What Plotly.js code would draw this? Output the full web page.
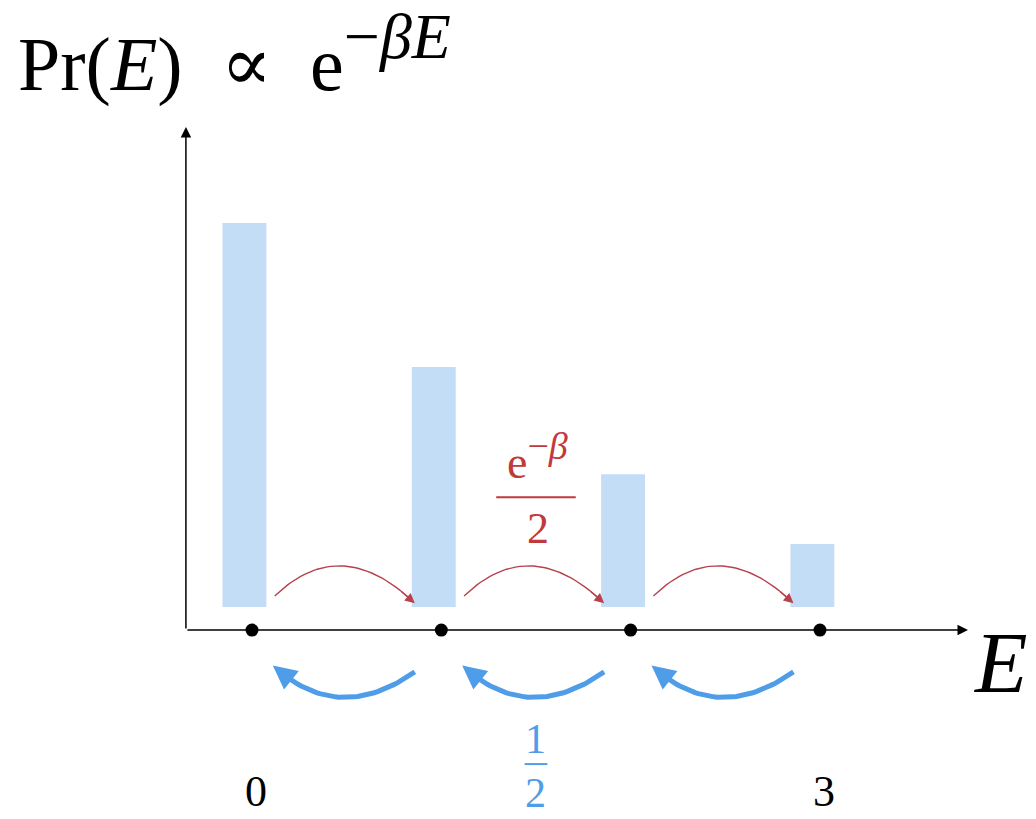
<!DOCTYPE html>
<html>
<head>
<meta charset="utf-8">
<script src="https://cdn.plot.ly/plotly-3.0.1.min.js"></script>
<style>html,body{margin:0;padding:0;background:#fff;}#chart{width:1036px;height:819px;}</style>
</head>
<body>
<div id="chart"></div>
<script>
// ---- data ----
const energies = [0, 1, 2, 3];
const probabilities = [1.0, 0.625, 0.346, 0.164];
const tickEnergies = [0, 3];
const tickLabels = ['0', '3'];
const titleText = 'Pr(<i>E</i>)  ∝  e<sup><span style="font-size:64px">−<i>βE</i></span></sup>';
const axisLabel = '<i>E</i>';
const upRateLabel = ['e<sup><span style="font-size:38px">−<i>β</i></span></sup>', '2'];
const downRateLabel = ['1', '2'];

// ---- styles ----
const barColor = '#c4ddf6';
const red = '#b8414d';
const redText = '#c0393b';
const blue = '#4f9de9';
const serif = '"Liberation Serif", "DejaVu Serif", serif';

const barBase = 0.06;
const xRange = [-1.331, 4.141];
const yRange = [-0.492, 1.641];

function bez(p0, c, p2, t) {
  const a = (1 - t) * (1 - t), b = 2 * t * (1 - t), d = t * t;
  return [a * p0[0] + b * c[0] + d * p2[0], a * p0[1] + b * c[1] + d * p2[1]];
}
function curve(p0, c, p2, t0, t1, n) {
  const xs = [], ys = [];
  for (let i = 0; i <= n; i++) {
    const p = bez(p0, c, p2, t0 + (t1 - t0) * i / n);
    xs.push(p[0]); ys.push(p[1]);
  }
  return {xs, ys};
}

const traces = [];
const annotations = [];
const shapes = [];

function arrow(tip, from, color, width, size) {
  annotations.push({x: tip[0], y: tip[1], ax: from[0], ay: from[1], xref: 'x', yref: 'y',
    axref: 'x', ayref: 'y', text: '', showarrow: true, arrowhead: 2, arrowsize: size,
    arrowwidth: width, arrowcolor: color, standoff: 0, startstandoff: 0});
}

// bars
traces.push({
  type: 'bar', x: energies, y: probabilities, base: barBase,
  width: 0.232, offset: -0.156,
  marker: {color: barColor, line: {width: 0}},
  hoverinfo: 'skip'
});

// arcs between neighbouring energies
for (let i = 0; i < energies.length - 1; i++) {
  const n = energies[i];
  // red (up) arc
  const rp0 = [n + 0.12, 0.089], rc = [n + 0.47, 0.2545], rp2 = [n + 0.86, 0.07];
  const rcv = curve(rp0, rc, rp2, 0, 0.97, 40);
  traces.push({type: 'scatter', mode: 'lines', x: rcv.xs, y: rcv.ys,
    line: {color: red, width: 1.4}, hoverinfo: 'skip'});
  arrow(rp2, bez(rp0, rc, rp2, 0.9), red, 1.4, 1.4);
  // blue (down) arc
  const bp0 = [n + 0.86, -0.109], bc = [n + 0.455, -0.2495], bp2 = [n + 0.11, -0.092];
  const bcv = curve(bp0, bc, bp2, 0, 0.9, 40);
  traces.push({type: 'scatter', mode: 'lines', x: bcv.xs, y: bcv.ys,
    line: {color: blue, width: 5}, hoverinfo: 'skip'});
  arrow(bp2, bez(bp0, bc, bp2, 0.86), blue, 5, 0.95);
}

// energy level dots
traces.push({type: 'scatter', mode: 'markers', x: energies, y: energies.map(() => 0),
  marker: {color: '#000', size: 13}, hoverinfo: 'skip'});

// axes arrows
const axX = -0.349;
arrow([3.782, 0], [axX, 0], '#000', 1.5, 1.4);
arrow([axX, 1.31], [axX, 0], '#000', 1.5, 1.4);

// titles
annotations.push({x: -1.245, y: 1.50, xref: 'x', yref: 'y', xanchor: 'left', yanchor: 'middle',
  text: titleText, showarrow: false,
  font: {family: serif, size: 76, color: '#000'}});
annotations.push({x: 3.955, y: -0.085, xref: 'x', yref: 'y', xanchor: 'center', yanchor: 'middle',
  text: axisLabel, showarrow: false, font: {family: serif, size: 86, color: '#000'}});

// tick labels
tickEnergies.forEach((e, k) => {
  annotations.push({x: e + 0.02, y: -0.42, xref: 'x', yref: 'y', text: tickLabels[k],
    showarrow: false, font: {family: serif, size: 44, color: '#000'}});
});

// rate labels
const mid = (energies[1] + energies[2]) / 2;
annotations.push({x: mid + 0.01, y: 0.452, xref: 'x', yref: 'y', text: upRateLabel[0], showarrow: false,
  font: {family: serif, size: 46, color: redText}});
annotations.push({x: mid + 0.01, y: 0.265, xref: 'x', yref: 'y', text: upRateLabel[1], showarrow: false,
  font: {family: serif, size: 44, color: redText}});
shapes.push({type: 'line', xref: 'x', yref: 'y', x0: mid - 0.21, x1: mid + 0.21, y0: 0.346, y1: 0.346,
  line: {color: redText, width: 2}});
annotations.push({x: mid, y: -0.283, xref: 'x', yref: 'y', text: downRateLabel[0], showarrow: false,
  font: {family: serif, size: 42, color: blue}});
annotations.push({x: mid, y: -0.425, xref: 'x', yref: 'y', text: downRateLabel[1], showarrow: false,
  font: {family: serif, size: 42, color: blue}});
shapes.push({type: 'line', xref: 'x', yref: 'y', x0: mid - 0.06, x1: mid + 0.06, y0: -0.349, y1: -0.349,
  line: {color: blue, width: 2}});

const layout = {
  width: 1036, height: 819,
  margin: {l: 0, r: 0, t: 0, b: 0},
  paper_bgcolor: '#fff', plot_bgcolor: '#fff',
  showlegend: false,
  xaxis: {range: xRange, visible: false, fixedrange: true},
  yaxis: {range: yRange, visible: false, fixedrange: true},
  annotations: annotations,
  shapes: shapes
};

Plotly.newPlot('chart', traces, layout, {staticPlot: true, displayModeBar: false});
</script>
</body>
</html>
